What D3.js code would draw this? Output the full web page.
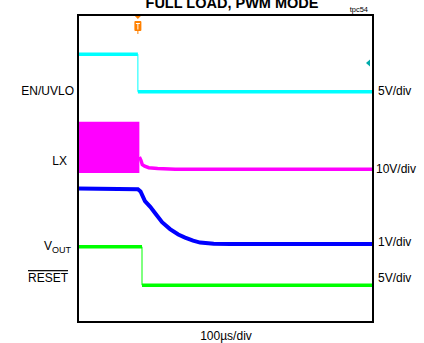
<!DOCTYPE html>
<html><head><meta charset="utf-8">
<script src="https://cdn.jsdelivr.net/npm/d3@7"></script>
<style>body{margin:0;background:#fff}svg{display:block;font-family:"Liberation Sans",Arial,sans-serif}</style>
</head><body><svg id="c" width="424" height="343"></svg>
<script>
// time in µs (100 µs/div, 10 div), values in screen divisions (0 = bottom, 8 = top)
const enT = [0, 203, 203, 1000];
const enV = [6.98, 6.98, 6.0, 6.0];
const lxBandT = [0, 208];
const lxBandLo = [3.88, 3.88];
const lxBandHi = [5.22, 5.22];
const lxT = [208, 213, 218, 226, 240, 270, 330, 1000];
const lxV = [4.3, 4.22, 4.1, 4.06, 4.02, 4.0, 3.98, 3.98];
const voutT = [0, 203, 212, 227, 245, 261, 285, 312, 340, 363, 390, 414, 460, 515, 1000];
const voutV = [3.48, 3.46, 3.4, 3.15, 3.0, 2.84, 2.6, 2.42, 2.28, 2.2, 2.12, 2.07, 2.04, 2.03, 2.03];
const rstT = [0, 217, 217, 1000];
const rstV = [1.96, 1.96, 0.96, 0.96];
const rightLabels = ["5V/div", "10V/div", "1V/div", "5V/div"];
const rightLabelY = [6.02, 4.0, 2.1, 1.15];
const leftLabelY = [6.02, 4.2, 1.98, 1.15];
const xLabel = "100µs/div";
const title = "FULL LOAD, PWM MODE";

const svg = d3.select("#c");
const L = 78, R = 373, T = 15, B = 322;
const x = d3.scaleLinear().domain([0, 1000]).range([L, R]);
const y = d3.scaleLinear().domain([0, 8]).range([B, T]);

svg.append("text").attr("x", 232).attr("y", 7.5).attr("text-anchor", "middle")
  .attr("font-weight", "bold").attr("font-size", 14.5).text(title);
svg.append("text").attr("x", 368).attr("y", 12).attr("text-anchor", "end")
  .attr("font-size", 7.5).text("tpc54");

const g = svg.append("g");
const line = (ts, vs) => d3.line().x((d, i) => x(ts[i])).y((d, i) => y(vs[i]))(ts);

// LX switching band
g.append("path").attr("fill", "#ff00ff")
  .attr("d", d3.area().x((d, i) => x(lxBandT[i])).y0((d, i) => y(lxBandLo[i])).y1((d, i) => y(lxBandHi[i]))(lxBandT));
g.append("path").attr("fill", "none").attr("stroke", "#ff00ff").attr("stroke-width", 3.5).attr("d", line(lxT, lxV));

// EN/UVLO
g.append("path").attr("fill", "none").attr("stroke", "#00ffff").attr("stroke-width", 3.5)
  .attr("d", line(enT.slice(0, 2), enV.slice(0, 2)));
g.append("path").attr("fill", "none").attr("stroke", "#00ffff").attr("stroke-width", 3.5)
  .attr("d", line(enT.slice(2), enV.slice(2)));
g.append("path").attr("fill", "none").attr("stroke", "#00ffff").attr("stroke-width", 1)
  .attr("d", line(enT.slice(1, 3), enV.slice(1, 3)));

// VOUT
g.append("path").attr("fill", "none").attr("stroke", "#0000ff").attr("stroke-width", 4).attr("d", line(voutT, voutV));

// RESET
g.append("path").attr("fill", "none").attr("stroke", "#00ff00").attr("stroke-width", 3.5)
  .attr("d", line(rstT.slice(0, 2), rstV.slice(0, 2)));
g.append("path").attr("fill", "none").attr("stroke", "#00ff00").attr("stroke-width", 3.5)
  .attr("d", line(rstT.slice(2), rstV.slice(2)));
g.append("path").attr("fill", "none").attr("stroke", "#00ff00").attr("stroke-width", 1)
  .attr("d", line(rstT.slice(1, 3), rstV.slice(1, 3)));

// frame
svg.append("rect").attr("x", L).attr("y", T).attr("width", R - L).attr("height", B - T)
  .attr("fill", "none").attr("stroke", "#000").attr("stroke-width", 2);

// trigger marker
const tx = x(enT[1]);
svg.append("path").attr("fill", "#ff8000").attr("d", `M${tx-3},16 L${tx+3},16 L${tx},19 Z`);
svg.append("rect").attr("x", tx - 3.5).attr("y", 21).attr("width", 7).attr("height", 10).attr("rx", 1).attr("fill", "#ff8000");
svg.append("path").attr("stroke", "#fff").attr("stroke-width", 1).attr("fill", "none")
  .attr("d", `M${tx-2},23.5 L${tx+2},23.5 M${tx},23.5 L${tx},29.5`);
svg.append("path").attr("stroke", "#ff8000").attr("stroke-width", 1).attr("d", `M${tx},31 L${tx},34`);

// right-side ground marker
svg.append("path").attr("fill", "#00aaaa").attr("d", `M${R-7},63 L${R-3},59.5 L${R-3},66.5 Z`);

// left labels
const ll = svg.append("g").attr("font-size", 12).attr("text-anchor", "end");
ll.append("text").attr("x", 74).attr("y", y(leftLabelY[0])).attr("dy", "0.35em").text("EN/UVLO");
ll.append("text").attr("x", 67).attr("y", y(leftLabelY[1])).attr("dy", "0.35em").text("LX");
const vt = ll.append("text").attr("x", 71).attr("y", y(leftLabelY[2])).attr("dy", "0.35em");
vt.append("tspan").text("V");
vt.append("tspan").attr("font-size", 9).attr("dy", 3).text("OUT");
ll.append("text").attr("x", 68).attr("y", y(leftLabelY[3])).attr("dy", "0.35em")
  .attr("text-decoration", "overline").text("RESET");

// right labels
const rl = svg.append("g").attr("font-size", 12);
rightLabels.forEach((t, i) => {
  rl.append("text").attr("x", i === 1 ? 376 : 378).attr("y", y(rightLabelY[i])).attr("dy", "0.35em").text(t);
});

svg.append("text").attr("x", 226).attr("y", 340).attr("text-anchor", "middle").attr("font-size", 12).text(xLabel);
</script></body></html>
